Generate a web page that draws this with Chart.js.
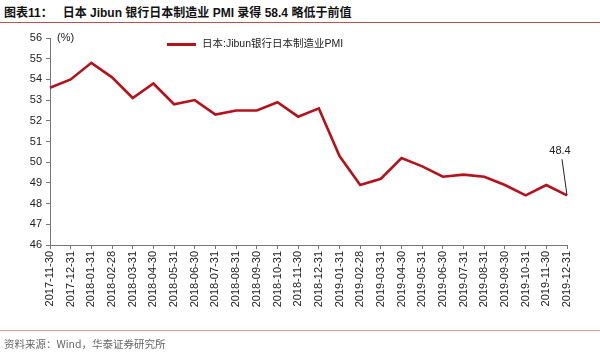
<!DOCTYPE html><html lang="zh">
<head>
  <meta charset="UTF-8" />
  <title>日本 Jibun 银行日本制造业 PMI</title>
  <script src="https://cdn.jsdelivr.net/npm/chart.js"></script>
  <style>
    body { margin: 0; background: #fff; width: 600px; height: 353px; overflow: hidden; position: relative;
      font-family: 'Liberation Sans', Arial, 'Noto Sans CJK SC', sans-serif; }
    .title { position: absolute; left: 4px; top: 3px; font-size: 12px; font-weight: bold; color: #111;
      font-family: 'Liberation Sans', 'Noto Sans CJK SC', sans-serif; white-space: pre; }
    .rule { position: absolute; left: 0; width: 600px; height: 1px; background: #c0504d; }
    .source { position: absolute; left: 4px; top: 336px; font-size: 10.5px; color: #666;
      font-family: 'Noto Sans CJK SC', sans-serif; }
    .unit { position: absolute; left: 57px; top: 31px; font-size: 11px; color: #222; }
    .legend { position: absolute; left: 167px; top: 35px; font-size: 10.5px; color: #222;
      font-family: 'Liberation Sans', 'Noto Sans CJK SC', sans-serif; }
    .legend span.sw { display: inline-block; width: 29px; height: 3px; background: #b5121b; vertical-align: middle; margin-right: 6px; }
    #wrap { position: absolute; left: 0; top: 0; width: 600px; height: 353px; }
  </style>
</head>
<body>
  <div class="title">图表11：   日本 Jibun 银行日本制造业 PMI 录得 58.4 略低于前值</div>
  <div class="rule" style="top:22px"></div>
  <div id="wrap"><canvas id="pmiChart"></canvas></div>
  <div class="unit">(%)</div>
  <div class="legend"><span class="sw"></span>日本:Jibun银行日本制造业PMI</div>
  <div class="rule" style="top:330px; background:#e6a0a0"></div>
  <div class="source">资料来源：Wind，华泰证券研究所</div>
  <script>
    const months = ['2017-11-30','2017-12-31','2018-01-31','2018-02-28','2018-03-31','2018-04-30',
      '2018-05-31','2018-06-30','2018-07-31','2018-08-31','2018-09-30','2018-10-31','2018-11-30',
      '2018-12-31','2019-01-31','2019-02-28','2019-03-31','2019-04-30','2019-05-31','2019-06-30',
      '2019-07-31','2019-08-31','2019-09-30','2019-10-31','2019-11-30','2019-12-31'];
    const pmi = [53.6, 54.0, 54.8, 54.1, 53.1, 53.8, 52.8, 53.0, 52.3, 52.5, 52.5, 52.9, 52.2,
      52.6, 50.3, 48.9, 49.2, 50.2, 49.8, 49.3, 49.4, 49.3, 48.9, 48.4, 48.9, 48.4];
    const yMin = 46, yMax = 56;

    // label for the last point, drawn with a leader line
    const lastLabel = {
      id: 'lastLabel',
      afterDatasetsDraw(chart) {
        const ctx = chart.ctx;
        const meta = chart.getDatasetMeta(0);
        const i = pmi.length - 1;
        const pt = meta.data[i];
        ctx.save();
        ctx.strokeStyle = '#222';
        ctx.lineWidth = 1;
        ctx.beginPath();
        ctx.moveTo(pt.x - 5, pt.y - 36);
        ctx.lineTo(pt.x, pt.y);
        ctx.stroke();
        ctx.fillStyle = '#222';
        ctx.font = '11px "Liberation Sans", Arial, sans-serif';
        ctx.textAlign = 'center';
        ctx.textBaseline = 'bottom';
        ctx.fillText(pmi[i].toFixed(1), pt.x - 7, pt.y - 39);
        ctx.restore();
      }
    };

    new Chart(document.getElementById('pmiChart'), {
      type: 'line',
      data: {
        labels: months,
        datasets: [{
          label: '日本:Jibun银行日本制造业PMI',
          data: pmi,
          borderColor: '#b5121b',
          borderWidth: 2.6,
          pointRadius: 0,
          tension: 0,
          fill: false
        }]
      },
      options: {
        responsive: true,
        maintainAspectRatio: false,
        animation: false,
        layout: { padding: { left: 0, right: 33, top: 38, bottom: 0 } },
        plugins: { legend: { display: false }, tooltip: { enabled: false } },
        scales: {
          x: {
            offset: false,
            grid: { drawOnChartArea: false, tickLength: 4, color: '#777' },
            border: { color: '#777', width: 1 },
            ticks: {
              autoSkip: false, maxRotation: 90, minRotation: 90, padding: 2,
              color: '#222', font: { family: "'Liberation Sans', Arial, sans-serif", size: 11 }
            },
            afterFit(scale) { scale.height = 353 - 245; }
          },
          y: {
            min: yMin, max: yMax,
            grid: { drawOnChartArea: false, tickLength: 4, color: '#777' },
            border: { color: '#777', width: 1 },
            ticks: {
              stepSize: 1, padding: 4,
              color: '#222', font: { family: "'Liberation Sans', Arial, sans-serif", size: 11 }
            },
            afterFit(scale) { scale.width = 50; }
          }
        }
      },
      plugins: [lastLabel]
    });
  </script>
</body>
</html>
